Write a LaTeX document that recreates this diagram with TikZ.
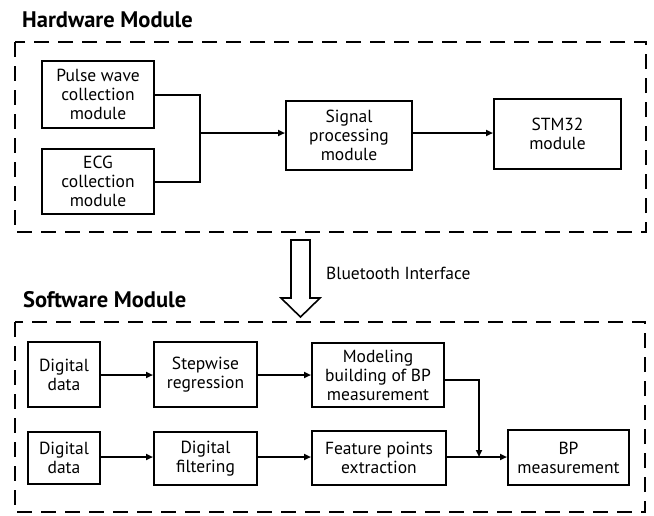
\documentclass[tikz,border=0pt]{standalone}
\usepackage{fontspec}
\setmainfont{PT Sans}
\usetikzlibrary{arrows.meta}
\tikzset{
  blk/.style={draw, line width=2pt, align=center, inner sep=0pt,
    font=\fontsize{17.5}{19}\selectfont},
  conn/.style={line width=2pt},
  arr/.style={conn, -{Triangle[length=7pt,width=6pt]}},
  grp/.style={draw, line width=2.6pt, dash pattern=on 15pt off 9pt},
  ttl/.style={font=\fontsize{22.5}{24}\selectfont\bfseries, anchor=base west, inner sep=0pt},
  lbl/.style={font=\fontsize{17.5}{18}\selectfont, anchor=base west, inner sep=0pt}
}
\begin{document}
\begin{tikzpicture}[x=1pt,y=-1pt]
\useasboundingbox (0,0) rectangle (654,515);
% group frames
\draw[grp] (15,42) rectangle (646,232);
\draw[grp] (15,322) rectangle (645,512);
\node[ttl] (thw) at (22,27) {Hardware Module};
\node[ttl] (tsw) at (23,307) {Software Module};
% hardware blocks
\node[blk, minimum width=112pt, minimum height=67pt] (pulse) at (98,94.5) {Pulse wave\\collection\\module};
\node[blk, minimum width=112pt, minimum height=65pt] (ecg) at (98,181.5) {ECG\\collection\\module};
\node[blk, minimum width=126pt, minimum height=69pt] (sig) at (349,135.5) {Signal\\processing\\module};
\node[blk, minimum width=127pt, minimum height=70pt] (stm) at (557.5,134) {STM32\\module};
\coordinate (j) at (200,133);
\draw[conn] (pulse.east) -| (j);
\draw[conn] (ecg.east) -| (j);
\draw[arr] (j) -- (j -| sig.west);
\draw[arr] (sig.east |- j) -- (j -| stm.west);
% bluetooth hollow arrow
\draw[line width=1.6pt, line join=miter, fill=white] (291,240) -- (310,240) -- (310,298) -- (320,298) -- (300.5,317) -- (281,298) -- (291,298) -- cycle;
\node[lbl] (bt) at (326,279) {Bluetooth Interface};
% software blocks
\node[blk, minimum width=72pt, minimum height=65pt] (d1) at (64,374.5) {Digital\\data};
\node[blk, minimum width=103pt, minimum height=65pt] (sr) at (205.5,374.5) {Stepwise\\regression};
\node[blk, minimum width=132pt, minimum height=64pt] (mb) at (378,375) {Modeling\\building of BP\\measurement};
\node[blk, minimum width=72pt, minimum height=52pt] (d2) at (64,458) {Digital\\data};
\node[blk, minimum width=103pt, minimum height=53pt] (df) at (205.5,458.5) {Digital\\filtering};
\node[blk, minimum width=134pt, minimum height=54pt] (fp) at (379,458) {Feature points\\extraction};
\node[blk, minimum width=121pt, minimum height=55pt] (bp) at (568.5,457.5) {BP\\measurement};
\coordinate (r1) at (0,375);
\coordinate (r2) at (0,457);
\coordinate (k) at (479,457);
\draw[arr] (d1.east |- r1) -- (sr.west |- r1);
\draw[arr] (sr.east |- r1) -- (mb.west |- r1);
\draw[arr] (d2.east |- r2) -- (df.west |- r2);
\draw[arr] (df.east |- r2) -- (fp.west |- r2);
\draw[arr] (fp.east |- r2) -- (bp.west |- r2);
\draw[arr] (mb.east |- 0,380) -| (k);
\end{tikzpicture}
\end{document}
